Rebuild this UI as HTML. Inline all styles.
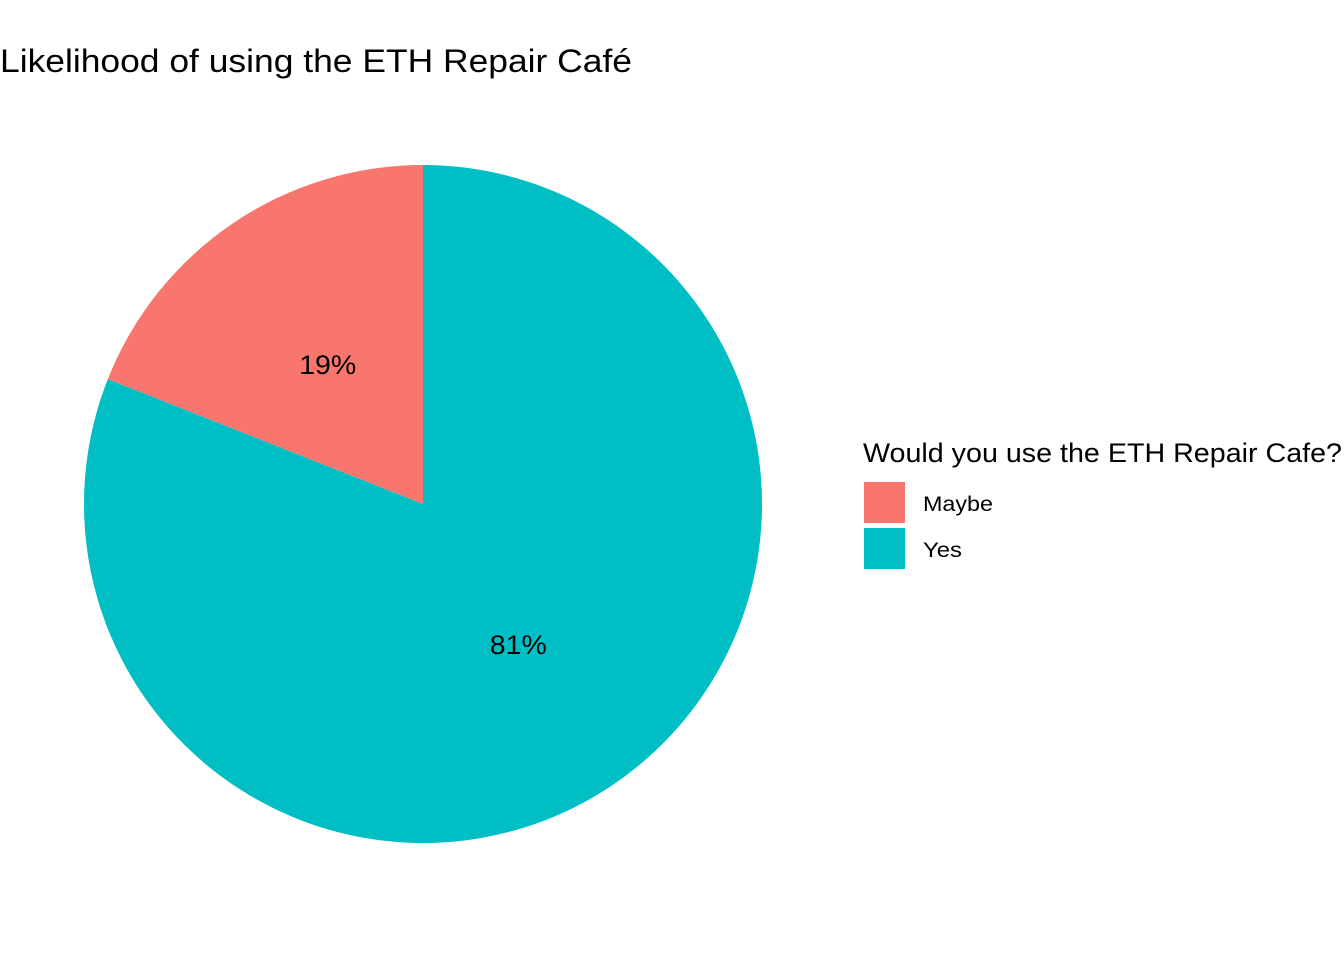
<!DOCTYPE html>
<html><head><meta charset="utf-8"><style>
html,body{margin:0;padding:0;background:#fff;}
svg{display:block;font-family:"Liberation Sans",sans-serif;}
</style></head><body>
<svg width="1344" height="960">
<text x="0" y="72" font-size="32" textLength="632" lengthAdjust="spacingAndGlyphs" fill="#000">Likelihood of using the ETH Repair Café</text>
<g id="pie"></g>
<g>
<text x="863" y="462" font-size="27" textLength="479" lengthAdjust="spacingAndGlyphs" fill="#000">Would you use the ETH Repair Cafe?</text>
<g id="legend-items"></g>
</g>
</svg>
<script>
const categories = ["Maybe", "Yes"];
const values = [19, 81];
const colors = ["#F8766D", "#00BFC4"];
const cx = 423, cy = 504, r = 339;
const ns = "http://www.w3.org/2000/svg";
const total = values.reduce((a,b)=>a+b,0);
const pie = document.getElementById('pie');
function pt(frac, rad){
  const a = frac*2*Math.PI;
  return [cx - rad*Math.sin(a), cy - rad*Math.cos(a)];
}
let cum = 0;
values.forEach((v,i)=>{
  const f0 = cum/total, f1 = (cum+v)/total;
  const p0 = pt(f0,r), p1 = pt(f1,r);
  const large = (f1-f0)>0.5?1:0;
  const path = document.createElementNS(ns,'path');
  path.setAttribute('d',`M${cx},${cy} L${p0[0]},${p0[1]} A${r},${r} 0 ${large} 0 ${p1[0]},${p1[1]} Z`);
  path.setAttribute('fill',colors[i]);
  
  
  pie.appendChild(path);
  const lp = pt((f0+f1)/2, r*0.5);
  const t = document.createElementNS(ns,'text');
  t.setAttribute('x',lp[0]); t.setAttribute('y',lp[1]+10);
  t.setAttribute('text-anchor','middle'); t.setAttribute('font-size','27');
  t.setAttribute('textLength','57'); t.setAttribute('lengthAdjust','spacingAndGlyphs');
  t.textContent = v+'%';
  
  
  pie.appendChild(t);
  cum += v;
});
const legendWidths = [70, 39];
const li = document.getElementById('legend-items');
categories.forEach((c,i)=>{
  const g = document.createElementNS(ns,'g');
  
  
  const rect = document.createElementNS(ns,'rect');
  rect.setAttribute('x',864); rect.setAttribute('y',482+i*46);
  rect.setAttribute('width',41); rect.setAttribute('height',41);
  rect.setAttribute('fill',colors[i]);
  g.appendChild(rect);
  const t = document.createElementNS(ns,'text');
  t.setAttribute('x',923); t.setAttribute('y',511+i*46);
  t.setAttribute('font-size','21.5');
  t.setAttribute('textLength',legendWidths[i]); t.setAttribute('lengthAdjust','spacingAndGlyphs');
  t.textContent = c;
  g.appendChild(t);
  li.appendChild(g);
});
</script>
</body></html>
